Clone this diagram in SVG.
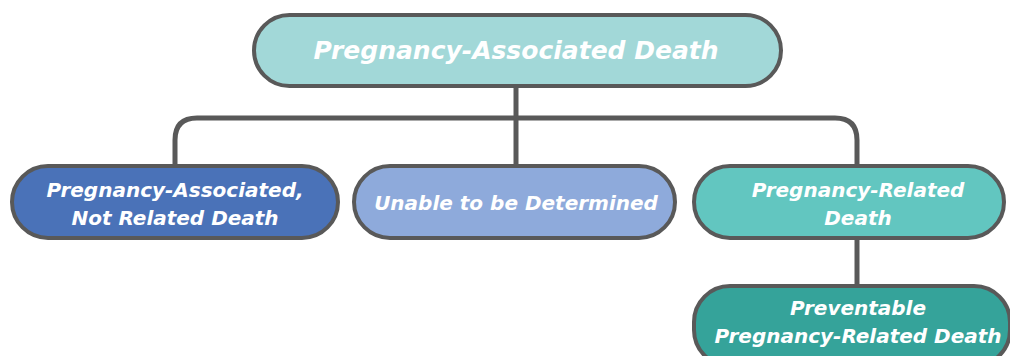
<svg xmlns="http://www.w3.org/2000/svg" width="1010" height="356" viewBox="0 0 1010 356">
<style>
.box{stroke:#595959;stroke-width:4}
.t{font-family:"DejaVu Sans","Liberation Sans",sans-serif;font-style:italic;font-weight:bold;fill:#ffffff;text-anchor:middle}
.s{font-size:20px}
.conn{fill:none;stroke:#595959;stroke-width:5}
</style>
<rect width="1010" height="356" fill="#ffffff"/>
<g id="connectors">
<path class="conn" d="M516,86 V118"/>
<path class="conn" d="M175,166 V140 Q175,118 197,118 H835 Q857,118 857,140 V166"/>
<path class="conn" d="M516,118 V166"/>
<path class="conn" d="M857,238 V286"/>
</g>
<g id="n-top">
<rect class="box" x="254" y="15" width="527" height="71" rx="35.5" fill="#a2d8d8"/>
<text class="t" x="516" y="59" font-size="25">Pregnancy-Associated Death</text>
</g>
<g id="n-left">
<rect class="box" x="12" y="166" width="326" height="72" rx="36" fill="#4a72b8"/>
<text class="t s" x="175" y="197">Pregnancy-Associated,</text>
<text class="t s" x="175" y="225">Not Related Death</text>
</g>
<g id="n-mid">
<rect class="box" x="354" y="166" width="321" height="72" rx="36" fill="#8eaadb"/>
<text class="t s" x="516" y="210">Unable to be Determined</text>
</g>
<g id="n-right">
<rect class="box" x="694" y="166" width="310" height="72" rx="36" fill="#62c6c0"/>
<text class="t s" x="858" y="197">Pregnancy-Related</text>
<text class="t s" x="858" y="225">Death</text>
</g>
<g id="n-bottom">
<rect class="box" x="694" y="286" width="316" height="80" rx="36" fill="#35a39a"/>
<text class="t s" x="858" y="315">Preventable</text>
<text class="t s" x="858" y="343">Pregnancy-Related Death</text>
</g>
</svg>
